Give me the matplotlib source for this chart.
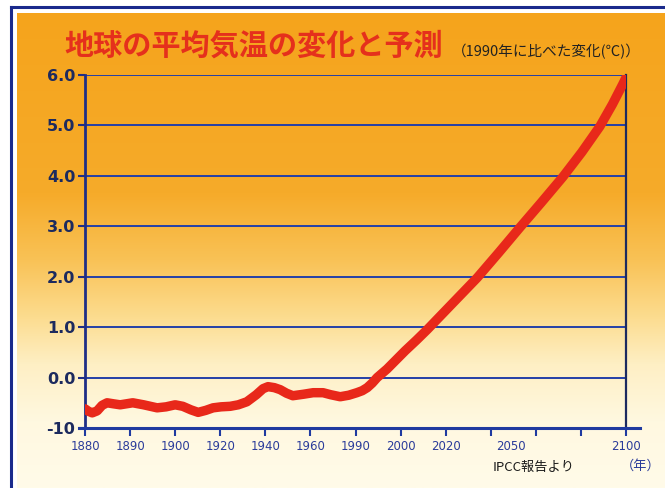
import numpy as np
import matplotlib
matplotlib.use("Agg")
import matplotlib.pyplot as plt
from matplotlib.colors import LinearSegmentedColormap
from matplotlib.lines import Line2D

plt.rcParams['font.family'] = ['Noto Sans CJK JP', 'DejaVu Sans']

# ---- data (x in tick-index units of the non-uniform year axis) ----
x_index = [0.0, 0.08, 0.16, 0.27, 0.38, 0.49, 0.63, 0.78, 0.92, 1.06, 1.30, 1.60,
           1.80, 2.0, 2.17, 2.35, 2.51, 2.68, 2.84, 3.02, 3.22, 3.40, 3.59, 3.80,
           3.95, 4.06, 4.20, 4.33, 4.47, 4.61, 4.85, 5.06, 5.28, 5.45, 5.66, 5.85,
           6.03, 6.15, 6.26, 6.37, 6.48, 6.70, 6.90, 7.10, 7.35, 7.59, 8.15, 8.70,
           9.18, 9.65, 10.12, 10.60, 11.02, 11.42, 11.70, 11.93, 12.0]
temp_change = [-0.62, -0.67, -0.70, -0.66, -0.55, -0.50, -0.52, -0.54, -0.52, -0.50,
               -0.54, -0.60, -0.58, -0.54, -0.57, -0.64, -0.69, -0.65, -0.60, -0.58,
               -0.57, -0.54, -0.48, -0.34, -0.22, -0.18, -0.20, -0.24, -0.31, -0.36,
               -0.33, -0.30, -0.30, -0.34, -0.38, -0.35, -0.30, -0.26, -0.20, -0.11,
               0.0, 0.17, 0.35, 0.53, 0.74, 0.95, 1.47, 1.98, 2.48, 2.98, 3.47, 3.98,
               4.47, 4.98, 5.42, 5.82, 5.95]

x_tick_pos = list(range(13))
x_tick_labels = ['1880', '1890', '1900', '1920', '1940', '1960', '1990', '2000',
                 '2020', '', '', '', '2100']
extra_label_pos = [9.45]
extra_labels = ['2050']

y_ticks = [-1, 0, 1, 2, 3, 4, 5, 6]
y_tick_labels = ['-10', '0.0', '1.0', '2.0', '3.0', '4.0', '5.0', '6.0']

title = '地球の平均気温の変化と予測'
subtitle = '（1990年に比べた変化(℃)）'
source = 'IPCC報告より'
unit = '（年）'

W, H = 665, 488
fig = plt.figure(figsize=(W / 100, H / 100), dpi=100)
fig.patch.set_facecolor('white')

# background gradient panel
bg = fig.add_axes([17 / W, 0, 1 - 17 / W, 1 - 13 / H], zorder=0)
cmap = LinearSegmentedColormap.from_list('bg', [
    (0.0, '#f5a41c'), (0.38, '#f6ab2a'), (0.52, '#f9c256'),
    (0.64, '#fcdc8f'), (0.74, '#feefc4'), (0.86, '#fff8e0'), (1.0, '#fffbe9')])
grad = np.linspace(0, 1, 256).reshape(-1, 1)
bg.imshow(grad, aspect='auto', cmap=cmap, extent=[0, 1, 0, 1])
bg.set_axis_off()

# blue outer frame lines
fig.add_artist(Line2D([11 / W, 11 / W], [0, 1 - 7 / H], color='#1a2a8c', lw=2.2,
                      transform=fig.transFigure))
fig.add_artist(Line2D([11 / W, 1], [1 - 7 / H, 1 - 7 / H], color='#1a2a8c', lw=2.2,
                      transform=fig.transFigure))

ax = fig.add_axes([85 / W, 1 - 428 / H, (626 - 85) / W, (428 - 75) / H], zorder=2)
ax.patch.set_alpha(0)

navy = '#1f2e86'
ax.set_xlim(0, 12)
ax.set_ylim(-1, 6)
for yv in y_ticks[1:]:
    ax.axhline(yv, color='#2440a8', lw=1.4, zorder=1)

ax.plot(x_index, temp_change, color='#e8281a', lw=6.8, solid_capstyle='round',
        solid_joinstyle='round', zorder=3)

# bottom axis line slightly longer than the plot, as in the original
ax.plot([-0.13, 12.3], [-1, -1], color='#1f3aa0', lw=2.2, clip_on=False, zorder=4)

ax.spines['top'].set_visible(False)
ax.spines['bottom'].set_visible(False)
ax.spines['left'].set_color(navy)
ax.spines['left'].set_linewidth(2.0)
ax.spines['right'].set_color('#1c2a60')
ax.spines['right'].set_linewidth(1.6)

ax.set_yticks(y_ticks)
ax.set_yticklabels(y_tick_labels, fontsize=11.5, fontweight='bold', color='#1c2a5e',
                   family=['DejaVu Sans'])
ax.tick_params(axis='y', direction='out', length=5, width=1.5, color=navy, pad=2)

ax.set_xticks(x_tick_pos)
ax.set_xticklabels(x_tick_labels, fontsize=8.5, color='#2b3c9a',
                   family=['Liberation Sans Narrow', 'DejaVu Sans'])
ax.tick_params(axis='x', direction='out', length=6, width=1.5, color='#1f3aa0', pad=3)
ax.set_xticks(extra_label_pos, minor=True)
ax.set_xticklabels(extra_labels, minor=True, fontsize=8.5, color='#2b3c9a',
                   family=['Liberation Sans Narrow', 'DejaVu Sans'])
ax.tick_params(axis='x', which='minor', length=0, pad=9)

fig.text(64 / W, 1 - 46 / H, title, fontsize=21, fontweight='bold', color='#e5301c',
         ha='left', va='center')
fig.text(452 / W, 1 - 52 / H, subtitle, fontsize=10.5, color='#222222',
         ha='left', va='center')
fig.text(493 / W, 1 - 467 / H, source, fontsize=9.5, color='#1a1a1a',
         ha='left', va='center')
fig.text(641 / W, 1 - 466 / H, unit, fontsize=9.5, color='#2b3c9a',
         ha='center', va='center')

fig.savefig('out.png', dpi=100)
